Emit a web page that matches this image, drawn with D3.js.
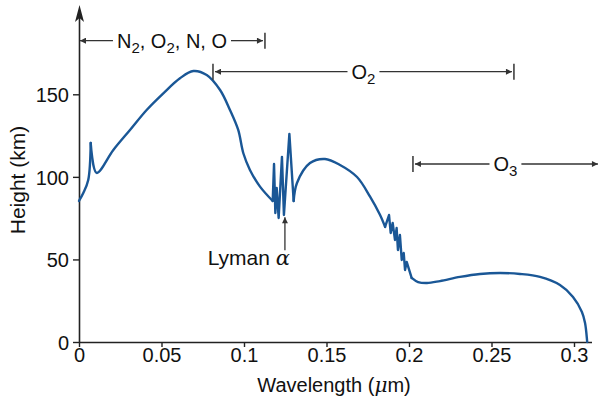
<!DOCTYPE html>
<html><head><meta charset="utf-8">
<script src="https://cdn.jsdelivr.net/npm/d3@7"></script>
<style>body{margin:0;background:#fff}svg{display:block}text{font-family:"Liberation Sans",Arial,sans-serif;fill:#111}</style>
</head><body><svg id="c" width="599" height="404"></svg>
<script>
const wavelength = [0,0.0026,0.0056,0.0071,0.0107,0.0208,0.0309,0.041,0.0511,0.0612,0.0693,0.0774,0.0855,0.0915,0.0965,0.0996,0.1036,0.1097,0.1174,
 0.1182,0.119,0.1198,0.121,0.123,0.1242,0.1275,0.1301,0.1321,0.14,0.1491,0.1582,0.1685,0.1764,0.1824,0.1855,
 0.1879,0.1889,0.1901,0.1915,0.1925,0.1933,0.1945,0.1956,0.1968,0.1976,0.1986,0.2016,0.2055,0.2109,0.2188,0.2309,0.243,0.2552,0.2673,0.2794,0.2915,0.2994,0.3048,0.3067,0.3079,0.308];
const heightKm = [85.4,90.2,98.1,120.5,102.4,116.3,128.4,140.5,150.6,159.7,164.1,161.7,152.6,140.5,128.4,114.3,104.2,94.1,85.4,
 107.8,78.1,93.3,75.1,112.1,76.9,126,85.4,96.3,108.4,110.8,107.2,99.9,88,77,69.7,
 76.9,66,72.1,61.8,69,55.7,64.8,49.7,53.9,43.6,48.5,38.8,36.3,35.7,36.9,39.4,41.2,41.8,41.2,39.4,34.5,27.3,18.2,11.5,1.2,0];
// index ranges of the curve pieces: smooth pieces and the jagged absorption-band pieces
const pieceStart = [0, 3, 18, 26, 34, 46];
const pieceEnd   = [3, 18, 26, 34, 46, 60];
const pieceJagged = [false, false, true, false, true, false];
const xTicks = [0,0.05,0.1,0.15,0.2,0.25,0.3];
const xTickLabels = ["0","0.05","0.1","0.15","0.2","0.25","0.3"];
const yTicks = [0,50,100,150];
const bandLabels = [["N","2",", O","2",", N, O"],["O","2"],["O","3"]];
const bandFrom = [0,0.0812,0.2024];
const bandTo = [0.1127,0.2636,0.3145];
const bandHeight = [182.5,163.7,107.8];
const bandLeftBar = [false,true,true];
const bandRightBar = [true,true,false];
const lymanAlpha = 0.1248;

const svg = d3.select("#c");
const x = d3.scaleLinear().domain([0,0.3]).range([79,574]);
const y = d3.scaleLinear().domain([0,150]).range([342,94.3]);
const axisCol = "#222";
const FS = 20;

const defs = svg.append("defs");
defs.append("marker").attr("id","ah").attr("viewBox","0 0 10 10").attr("refX",10).attr("refY",5)
  .attr("markerWidth",10).attr("markerHeight",6).attr("markerUnits","userSpaceOnUse").attr("orient","auto-start-reverse")
  .append("path").attr("d","M0,0L10,5L0,10z").attr("fill","#333");

// x axis
const xa = svg.append("g").attr("transform","translate(0,342)")
  .call(d3.axisBottom(x).tickValues(xTicks).tickFormat((d,i)=>xTickLabels[i]).tickSize(5).tickSizeOuter(0));
xa.select(".domain").attr("d","M79,0.5H592").attr("stroke",axisCol).attr("stroke-width",1.6);
xa.selectAll(".tick line").attr("stroke",axisCol).attr("stroke-width",1.4);
xa.selectAll(".tick text").attr("font-size",FS).attr("font-family","Liberation Sans, Arial, sans-serif").attr("fill","#111").attr("dy","0").attr("y",20);

// y axis
const ya = svg.append("g").attr("transform","translate(79,0)")
  .call(d3.axisLeft(y).tickValues(yTicks).tickSize(6).tickSizeOuter(0));
ya.select(".domain").attr("d","M0.5,342V14").attr("stroke",axisCol).attr("stroke-width",1.6);
ya.selectAll(".tick line").attr("stroke",axisCol).attr("stroke-width",1.4);
ya.selectAll(".tick text").attr("font-size",FS).attr("font-family","Liberation Sans, Arial, sans-serif").attr("fill","#111").attr("x",-10).attr("dy","0.36em");
svg.append("path").attr("d","M79.5,5L84,22L79.5,18L75,22Z").attr("fill",axisCol);

// axis titles
const xt = svg.append("text").attr("x",334).attr("y",392).attr("text-anchor","middle").attr("font-size",FS);
xt.append("tspan").text("Wavelength (");
xt.append("tspan").attr("font-style","italic").attr("font-family","DejaVu Serif, serif").text("μ");
xt.append("tspan").text("m)");
svg.append("text").attr("transform","translate(25,180) rotate(-90)").attr("text-anchor","middle").attr("font-size",FS+1).text("Height (km)");

// curve
const pts = wavelength.map((w,i)=>[w,heightKm[i]]);
const smoothLine = d3.line().x(d=>x(d[0])).y(d=>y(d[1])).curve(d3.curveCatmullRom.alpha(0.5));
const jagLine = d3.line().x(d=>x(d[0])).y(d=>y(d[1])).curve(d3.curveLinear);
pieceStart.forEach((s,k)=>{
  svg.append("path").datum(pts.slice(s, pieceEnd[k]+1)).attr("fill","none").attr("stroke","#1a5796").attr("stroke-width",2.4)
    .attr("stroke-linejoin","round").attr("stroke-linecap","round")
    .attr("d", pieceJagged[k] ? jagLine : smoothLine);
});

// bands
bandLabels.forEach((parts,i)=>{
  const x0 = x(bandFrom[i]), x1 = x(bandTo[i]), yy = y(bandHeight[i]);
  const mid = (x0+x1)/2;
  const t = svg.append("text").attr("x",mid).attr("y",yy+7.5).attr("text-anchor","middle").attr("font-size",FS);
  parts.forEach((p,j)=>{
    const ts = t.append("tspan").text(p);
    if (j%2===1) ts.attr("font-size",15).attr("dy",5);
    else if (j>0) ts.attr("dy",-5);
  });
  const bb = t.node().getBBox();
  const g = svg.append("g").attr("stroke","#333").attr("stroke-width",1.3);
  g.append("line").attr("x1",bb.x-4).attr("x2",x0+(bandLeftBar[i]?2:1)).attr("y1",yy).attr("y2",yy).attr("marker-end","url(#ah)");
  g.append("line").attr("x1",bb.x+bb.width+4).attr("x2",x1-(bandRightBar[i]?2:0)).attr("y1",yy).attr("y2",yy).attr("marker-end","url(#ah)");
  if (bandLeftBar[i]) g.append("line").attr("x1",x0).attr("x2",x0).attr("y1",yy-8).attr("y2",yy+8).attr("stroke-width",1.5);
  if (bandRightBar[i]) g.append("line").attr("x1",x1).attr("x2",x1).attr("y1",yy-8).attr("y2",yy+8).attr("stroke-width",1.5);
});

// Lyman alpha
svg.append("line").attr("x1",x(lymanAlpha)).attr("x2",x(lymanAlpha)).attr("y1",y(55.5)).attr("y2",y(75.5))
  .attr("stroke","#333").attr("stroke-width",1.3).attr("marker-end","url(#ah)");
const la = svg.append("text").attr("x",x(lymanAlpha)+5).attr("y",265).attr("text-anchor","end").attr("font-size",FS+1);
la.append("tspan").text("Lyman ");
la.append("tspan").attr("font-style","italic").attr("font-family","DejaVu Serif, serif").text("α");
</script></body></html>
